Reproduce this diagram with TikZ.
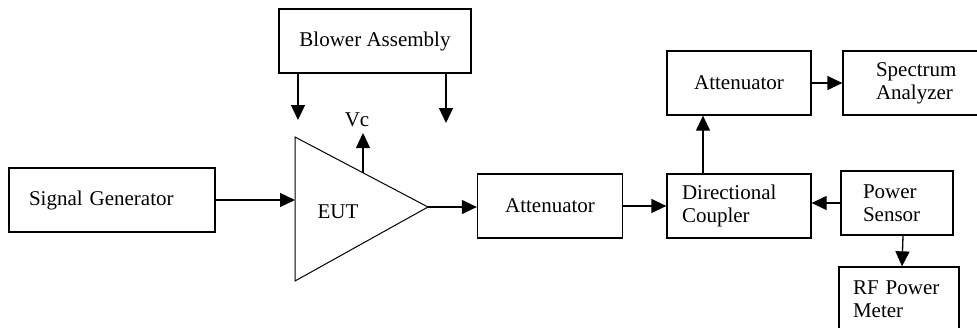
\documentclass[tikz,border=0pt]{standalone}
\usepackage{fontspec}
\setmainfont{Liberation Serif}
\usetikzlibrary{arrows.meta}
\tikzset{>={Triangle[length=15pt, width=14pt]}}
\tikzset{block/.style={draw, line width=1.3pt, minimum height=64pt, inner sep=0pt}}

\begin{document}
\begin{tikzpicture}[x=1pt, y=-1pt, line width=1.3pt, font=\fontsize{21}{23}\selectfont]
	\useasboundingbox (0,0) rectangle (977,327);
	\clip (0,0) rectangle (977,327);
	% boxes
	\node[block, minimum width=206pt, text width=166pt, align=left] (siggen) at (112,200) {Signal Generator};
	\node[block, minimum width=192pt] (blower) at (375,41) {Blower Assembly};
	\node[block, minimum width=145pt] (att1) at (550,206) {Attenuator};
	\node[block, minimum width=144pt, text width=114pt, align=left] (dc) at (739,206) {Directional\\Coupler};
	\node[block, minimum width=144pt] (att2) at (739,83) {Attenuator};
	\node[block, minimum width=152pt, text width=86pt, align=left] (sa) at (919,83) {Spectrum\\Analyzer};
	\node[block, minimum width=112pt, text width=68pt, align=left] (ps) at (897,203) {Power\\Sensor};
	\node[block, minimum width=120pt, text width=92pt, align=left] (rfpm) at (899,299) {RF Power\\Meter};
	% amplifier
	\draw[line width=1pt] (295,137) -- (428,207) coordinate (euttip) -- (295,281) -- cycle;
	\node (eut) at (338,212) {EUT};
	\node (vc) at (357,120) {Vc};
	\coordinate (eutin) at (295,200);
	\coordinate (vcbase) at (363,173);
	\coordinate (vctip) at (363,133);
	\coordinate (fanL) at (298,120);
	\coordinate (fanR) at (446,123);
	% connections
	\draw[->] (siggen) -- (eutin);
	\draw[->] (blower.south -| fanL) -- (fanL);
	\draw[->] (blower.south -| fanR) -- (fanR);
	\draw[->] (vcbase) -- (vctip);
	\draw[->] (euttip) -- (euttip -| att1.west);
	\draw[->] (att1) -- (dc);
	\draw[->] ([xshift=-36pt]dc.north) -- ([xshift=-36pt]att2.south);
	\draw[->] (att2) -- (sa);
	\draw[->] (ps.west) -- (ps.west -| dc.east);
	\draw[->] ([xshift=6pt]ps.south) -- ([xshift=3pt]rfpm.north);
\end{tikzpicture}
\end{document}
